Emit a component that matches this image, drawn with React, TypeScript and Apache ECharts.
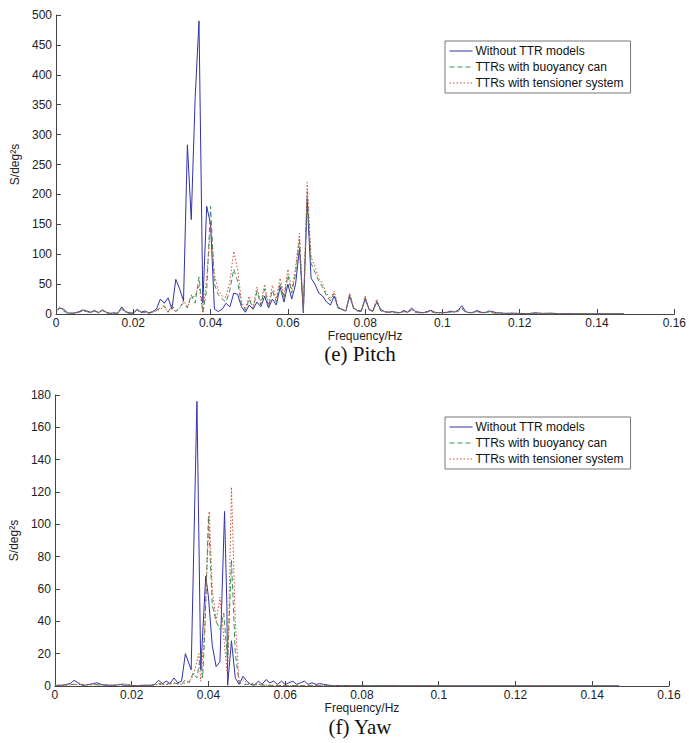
import React, { useEffect, useRef } from "react";
import * as echarts from "echarts";

const seriesNames = ["Without TTR models", "TTRs with buoyancy can", "TTRs with tensioner system"];
const xTicks = { min: 0, max: 0.16, interval: 0.02 };

const pitchWithout: number[][] = [[0,5],[0.001,10],[0.002,8],[0.003,2],[0.004,1],[0.005,2],[0.006,4],[0.007,7],[0.008,5],[0.009,3],[0.010,6],[0.011,2],[0.012,7],[0.013,3],[0.014,1],[0.015,2],[0.016,1],[0.017,12],[0.018,4],[0.019,2],[0.020,1],[0.021,8],[0.022,3],[0.023,5],[0.024,2],[0.025,4],[0.026,8],[0.027,25],[0.028,18],[0.029,27],[0.030,8],[0.031,58],[0.032,42],[0.033,22],[0.034,283],[0.035,158],[0.036,360],[0.037,490],[0.038,18],[0.039,180],[0.040,150],[0.041,8],[0.042,4],[0.043,8],[0.044,18],[0.045,12],[0.046,35],[0.047,33],[0.048,12],[0.049,3],[0.050,15],[0.051,8],[0.052,20],[0.053,12],[0.054,30],[0.055,10],[0.056,25],[0.057,15],[0.058,45],[0.059,20],[0.060,50],[0.061,25],[0.062,50],[0.063,110],[0.064,2],[0.065,190],[0.066,60],[0.067,50],[0.068,35],[0.069,30],[0.070,20],[0.071,15],[0.072,30],[0.073,10],[0.074,8],[0.075,5],[0.076,30],[0.077,10],[0.078,6],[0.079,5],[0.080,25],[0.081,8],[0.082,5],[0.083,20],[0.084,8],[0.085,4],[0.086,3],[0.087,4],[0.088,3],[0.089,2],[0.090,6],[0.091,3],[0.092,10],[0.093,4],[0.094,3],[0.095,2],[0.096,4],[0.097,6],[0.098,3],[0.099,2],[0.100,3],[0.101,2],[0.102,5],[0.103,3],[0.104,6],[0.105,14],[0.106,4],[0.107,2],[0.108,3],[0.109,6],[0.110,3],[0.111,2],[0.112,5],[0.113,4],[0.114,2],[0.115,2],[0.116,1],[0.118,1.5],[0.120,1],[0.122,0.5],[0.124,2],[0.126,1],[0.128,1.5],[0.130,0.5],[0.133,0.5],[0.136,0.3],[0.140,0.3],[0.144,0.3],[0.147,0.3]];

const pitchBuoyancy: number[][] = [[0,6],[0.001,10],[0.002,5],[0.003,1],[0.004,1],[0.005,2],[0.006,3],[0.007,6],[0.008,4],[0.009,2],[0.010,5],[0.011,2],[0.012,6],[0.013,2],[0.014,1],[0.015,1],[0.016,1],[0.017,9],[0.018,3],[0.019,1],[0.020,2],[0.021,7],[0.022,2],[0.023,3],[0.024,1],[0.025,3],[0.026,6],[0.027,10],[0.028,14],[0.029,3],[0.030,15],[0.031,4],[0.032,12],[0.033,18],[0.034,10],[0.035,32],[0.036,18],[0.037,62],[0.038,3],[0.039,40],[0.040,180],[0.041,50],[0.042,32],[0.043,25],[0.044,20],[0.045,40],[0.046,75],[0.047,55],[0.048,15],[0.049,6],[0.050,25],[0.051,8],[0.052,38],[0.053,15],[0.054,42],[0.055,12],[0.056,40],[0.057,20],[0.058,52],[0.059,25],[0.060,65],[0.061,35],[0.062,68],[0.063,125],[0.064,4],[0.065,205],[0.066,85],[0.067,70],[0.068,55],[0.069,45],[0.070,30],[0.071,22],[0.072,35],[0.073,10],[0.074,7],[0.075,5],[0.076,33],[0.077,9],[0.078,5],[0.079,4],[0.080,28],[0.081,7],[0.082,4],[0.083,22],[0.084,5],[0.085,3],[0.086,3],[0.087,3],[0.088,2],[0.089,2],[0.090,4],[0.091,2],[0.092,7],[0.093,3],[0.094,2],[0.096,3],[0.097,4],[0.098,2],[0.100,2],[0.102,3],[0.104,4],[0.105,9],[0.106,3],[0.108,2],[0.109,4],[0.110,2],[0.112,3],[0.114,1],[0.116,1],[0.120,0.5],[0.124,1],[0.128,0.5],[0.132,0.3],[0.136,0.3],[0.140,0.3],[0.144,0.3],[0.147,0.3]];

const pitchTensioner: number[][] = [[0,8],[0.001,12],[0.002,6],[0.003,1],[0.004,2],[0.005,1],[0.006,3],[0.007,5],[0.008,4],[0.009,2],[0.010,5],[0.011,3],[0.012,6],[0.013,2],[0.014,1],[0.015,1],[0.016,2],[0.017,8],[0.018,3],[0.019,1],[0.020,2],[0.021,6],[0.022,2],[0.023,3],[0.024,1],[0.025,3],[0.026,5],[0.027,8],[0.028,12],[0.029,3],[0.030,12],[0.031,4],[0.032,10],[0.033,22],[0.034,12],[0.035,28],[0.036,30],[0.037,48],[0.038,2],[0.039,60],[0.040,150],[0.041,65],[0.042,40],[0.043,30],[0.044,28],[0.045,55],[0.046,105],[0.047,75],[0.048,20],[0.049,8],[0.050,30],[0.051,10],[0.052,45],[0.053,18],[0.054,50],[0.055,15],[0.056,48],[0.057,25],[0.058,60],[0.059,30],[0.060,75],[0.061,40],[0.062,78],[0.063,135],[0.064,5],[0.065,220],[0.066,95],[0.067,80],[0.068,60],[0.069,50],[0.070,35],[0.071,25],[0.072,38],[0.073,12],[0.074,8],[0.075,5],[0.076,35],[0.077,10],[0.078,5],[0.079,4],[0.080,30],[0.081,8],[0.082,5],[0.083,25],[0.084,6],[0.085,4],[0.086,3],[0.087,3],[0.088,2],[0.089,2],[0.090,5],[0.091,2],[0.092,8],[0.093,3],[0.094,2],[0.095,2],[0.096,3],[0.097,5],[0.098,2],[0.099,2],[0.100,2],[0.102,4],[0.104,5],[0.105,10],[0.106,3],[0.108,2],[0.109,5],[0.110,2],[0.112,4],[0.114,1],[0.116,1],[0.120,0.5],[0.124,1],[0.128,0.5],[0.132,0.3],[0.136,0.3],[0.140,0.3],[0.144,0.3],[0.147,0.3]];

const yawWithout: number[][] = [[0,0.3],[0.001,0.5],[0.002,0.5],[0.003,1],[0.004,1.5],[0.005,3.5],[0.006,2],[0.007,0.5],[0.008,0.5],[0.009,1],[0.010,1.5],[0.011,2],[0.012,1],[0.013,0.5],[0.014,0.5],[0.015,0.3],[0.016,0.5],[0.017,1],[0.018,0.5],[0.019,0.5],[0.020,0.3],[0.021,0.2],[0.022,0.3],[0.023,0.5],[0.024,0.5],[0.025,0.5],[0.026,1],[0.027,3.5],[0.028,1.5],[0.029,3],[0.030,1.5],[0.031,5],[0.032,2],[0.033,3],[0.034,20],[0.0355,10],[0.037,176],[0.038,10],[0.0393,68],[0.040,55],[0.041,25],[0.042,12],[0.043,15],[0.0442,108],[0.0448,50],[0.045,0.5],[0.046,28],[0.047,5],[0.048,1],[0.049,6],[0.050,3],[0.051,1],[0.052,0.5],[0.053,3],[0.054,1],[0.055,4],[0.056,2],[0.057,3],[0.058,1],[0.059,3],[0.060,1],[0.061,2],[0.062,3],[0.063,1],[0.064,2],[0.065,3],[0.066,1],[0.067,2],[0.068,1],[0.069,1.5],[0.070,1],[0.072,0.3],[0.080,0.2],[0.090,0.2],[0.100,0.1],[0.120,0.1],[0.147,0.1]];

const yawBuoyancy: number[][] = [[0,0.2],[0.005,1],[0.010,0.8],[0.015,0.5],[0.018,1],[0.020,0.3],[0.025,0.3],[0.027,1.5],[0.029,1],[0.031,2],[0.033,1],[0.034,4],[0.035,2],[0.036,8],[0.037,5],[0.038,20],[0.0385,5],[0.039,30],[0.040,105],[0.041,50],[0.042,40],[0.043,35],[0.044,45],[0.045,15],[0.046,78],[0.047,20],[0.048,2],[0.049,1],[0.050,1],[0.055,0.5],[0.060,0.3],[0.070,0.2],[0.080,0.2],[0.100,0.1],[0.147,0.1]];

const yawTensioner: number[][] = [[0,0.2],[0.005,1],[0.010,0.8],[0.015,0.5],[0.018,1.5],[0.020,0.3],[0.025,0.3],[0.027,1],[0.029,1],[0.031,1.5],[0.033,1],[0.035,3],[0.036,6],[0.0375,20],[0.038,3],[0.039,35],[0.0402,108],[0.041,60],[0.042,40],[0.043,55],[0.044,30],[0.045,5],[0.046,123],[0.047,40],[0.048,2],[0.049,4],[0.050,2],[0.055,0.5],[0.060,0.3],[0.070,0.2],[0.080,0.2],[0.100,0.1],[0.147,0.1]];

const pitchY = { min: 0, max: 500, interval: 50 };
const yawY = { min: 0, max: 180, interval: 20 };

const colors = ["#3232a8", "#3f8f55", "#cf4a3c"];
const lineTypes: any[] = ["solid", [5, 3], [1.5, 2]];

export default function App() {
  const ref = useRef<HTMLDivElement>(null);
  useEffect(() => {
    if (!ref.current) return;
    const chart = echarts.init(ref.current, undefined, { renderer: "svg" });
    const font = "Liberation Sans, Arial, sans-serif";
    const fmt = (v: number) => String(parseFloat(v.toFixed(2)));
    const xAxis = (gi: number) => ({
      type: "value",
      gridIndex: gi,
      min: xTicks.min,
      max: xTicks.max,
      interval: xTicks.interval,
      name: "Frequency/Hz",
      nameLocation: "middle",
      nameGap: 16,
      nameTextStyle: { fontFamily: font, fontSize: 12, color: "#222" },
      axisLine: { onZero: false, lineStyle: { color: "#444", width: 1 } },
      axisTick: { inside: true, length: 5, lineStyle: { color: "#444" } },
      axisLabel: { fontFamily: font, fontSize: 12, color: "#222", margin: 3, formatter: fmt },
      splitLine: { show: false },
    });
    const yAxis = (gi: number, r: any, gap: number) => ({
      type: "value",
      gridIndex: gi,
      min: r.min,
      max: r.max,
      interval: r.interval,
      name: "S/deg²s",
      nameLocation: "middle",
      nameRotate: 90,
      nameGap: gap,
      nameTextStyle: { fontFamily: font, fontSize: 12, color: "#222" },
      axisLine: { show: true, lineStyle: { color: "#444", width: 1 } },
      axisTick: { show: true, inside: true, length: 5, lineStyle: { color: "#444" } },
      axisLabel: { fontFamily: font, fontSize: 12, color: "#222", margin: 4 },
      splitLine: { show: false },
    });
    const mk = (name: string, data: number[][], i: number, gi: number) => ({
      type: "line",
      name,
      data,
      xAxisIndex: gi,
      yAxisIndex: gi,
      showSymbol: false,
      symbol: "none",
      lineStyle: { color: colors[i], width: 1, type: lineTypes[i] },
      itemStyle: { color: colors[i] },
      z: 2 + i,
    });
    const legend = (top: number) => ({
      orient: "vertical",
      left: 445,
      top,
      data: seriesNames,
      itemWidth: 23,
      itemHeight: 10,
      itemGap: 4,
      padding: [4, 7, 4, 4],
      borderColor: "#777",
      borderWidth: 1,
      backgroundColor: "#fff",
      itemStyle: { opacity: 0 },
      lineStyle: { width: 1 },
      textStyle: { fontFamily: font, fontSize: 12, color: "#111", padding: [0, 0, 0, -2] },
      selectedMode: false,
    });
    chart.setOption({
      animation: false,
      backgroundColor: "#fff",
      grid: [
        { left: 56, right: 12, top: 15, height: 299 },
        { left: 48, right: 20, top: 395, height: 291 },
      ],
      xAxis: [xAxis(0), xAxis(1)],
      yAxis: [yAxis(0, pitchY, 23), yAxis(1, yawY, 22)],
      legend: [legend(41), legend(417)],
      series: [
        mk(seriesNames[0], pitchWithout, 0, 0),
        mk(seriesNames[1], pitchBuoyancy, 1, 0),
        mk(seriesNames[2], pitchTensioner, 2, 0),
        mk(seriesNames[0], yawWithout, 0, 1),
        mk(seriesNames[1], yawBuoyancy, 1, 1),
        mk(seriesNames[2], yawTensioner, 2, 1),
      ],
      graphic: [
        { type: "text", x: 360, y: 354, style: { text: "(e) Pitch", font: "21px 'Liberation Serif', 'Times New Roman', serif", fill: "#111", align: "center", verticalAlign: "middle" } },
        { type: "text", x: 360, y: 727, style: { text: "(f) Yaw", font: "21px 'Liberation Serif', 'Times New Roman', serif", fill: "#111", align: "center", verticalAlign: "middle" } },
      ],
    });
    return () => chart.dispose();
  }, []);
  return <div ref={ref} style={{ position: "absolute", left: 0, top: 0, width: 689, height: 743 }} />;
}
